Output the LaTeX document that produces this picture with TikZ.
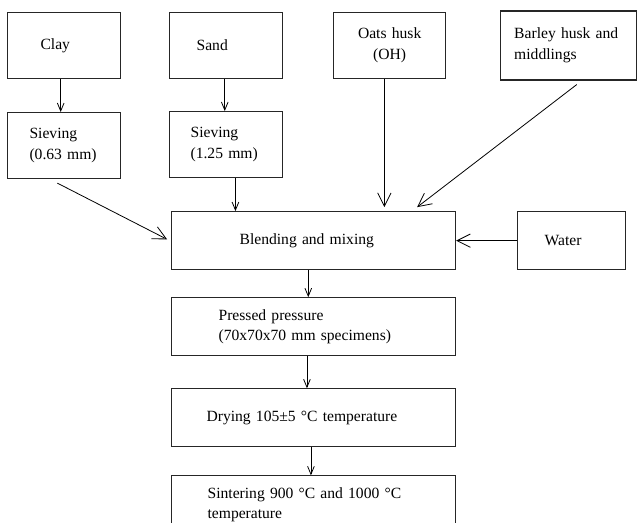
\documentclass[tikz,border=0pt]{standalone}
\usepackage{fontspec}
\setmainfont{Liberation Serif}
\usetikzlibrary{arrows.meta, positioning}

\begin{document}
\begin{tikzpicture}[
  font=\fontsize{11.7}{15.5}\selectfont,
  stage/.style={rectangle, draw=black!85, line width=0.8pt, align=left,
                inner xsep=0pt, inner ysep=0pt, minimum height=43.5pt},
  srcbox/.style={stage, minimum width=84.75pt, minimum height=49.5pt},
  wide/.style={stage, minimum width=213pt},
  arr/.style={-{Straight Barb[length=6pt, width=5pt]}, line width=0.6pt},
  bigarr/.style={-{Straight Barb[length=10pt, width=10pt]}, line width=0.6pt}
]
  \clip (0,0) rectangle (480.75pt,-392.25pt);

  % -- Row 1: raw materials -----------------------------------------------
  \node[srcbox, anchor=north west, text width=35.25pt] (clay) at (5.25pt,-9pt) {Clay};
  \node[srcbox, right=36pt of clay, text width=44.25pt] (sand) {Sand};
  \node[srcbox, right=37.5pt of sand, minimum width=84pt, align=center,
        text width=57pt] (oats) {Oats husk\\(OH)};
  \node[srcbox, right=40.5pt of oats, minimum width=102pt, minimum height=51.75pt,
        text width=81.75pt] (barley) {Barley husk and\\middlings};

  % -- Row 2: sieving -----------------------------------------------------
  \node[srcbox, below=24.75pt of clay, text width=51.75pt] (siev1) {Sieving\\(0.63 mm)};
  \node[srcbox, below=24pt of sand, text width=53.25pt] (siev2) {Sieving\\(1.25 mm)};

  % -- Process chain ------------------------------------------------------
  \node[wide, below=24.75pt of siev2.south west, anchor=north west, xshift=1.5pt,
        text width=111pt] (blend) {Blending and mixing};
  \node[stage, right=45.75pt of blend, minimum width=81pt, text width=40.5pt] (water) {Water};
  \node[wide, below=20.25pt of blend, text width=142.5pt] (press)
    {Pressed pressure\\(70x70x70 mm specimens)};
  \node[wide, below=24pt of press, text width=160.5pt] (dry)
    {Drying 105±5 °C temperature};
  \node[wide, below=21pt of dry, text width=159pt] (sinter)
    {Sintering 900 °C and 1000 °C\\temperature};

  % -- Arrows -------------------------------------------------------------
  \draw[arr] ([xshift=-2.5pt]clay.south) -- ([xshift=-2.5pt]siev1.north);
  \draw[arr] ([xshift=-1pt]sand.south) -- ([xshift=-1pt]siev2.north);
  \draw[arr] ([xshift=7pt]siev2.south) -- ([xshift=7pt]siev2.south |- blend.north);
  \draw[bigarr] ([xshift=-5pt,yshift=-3pt]siev1.south) -- ([xshift=-3pt,yshift=1pt]blend.west);
  \draw[bigarr, shorten >=3pt] ([xshift=-4pt]oats.south) -- ([xshift=-4pt]oats.south |- blend.north);
  \draw[bigarr] ([xshift=6pt,yshift=-3pt]barley.south) -- ([xshift=-29.25pt,yshift=3pt]blend.north east);
  \draw[bigarr] (water) -- (blend);
  \draw[arr] ([xshift=-4pt]blend.south) -- ([xshift=-4pt]press.north);
  \draw[arr] ([xshift=-5pt]press.south) -- ([xshift=-5pt]dry.north);
  \draw[arr] ([xshift=-2pt]dry.south) -- ([xshift=-2pt]sinter.north);
\end{tikzpicture}
\end{document}
